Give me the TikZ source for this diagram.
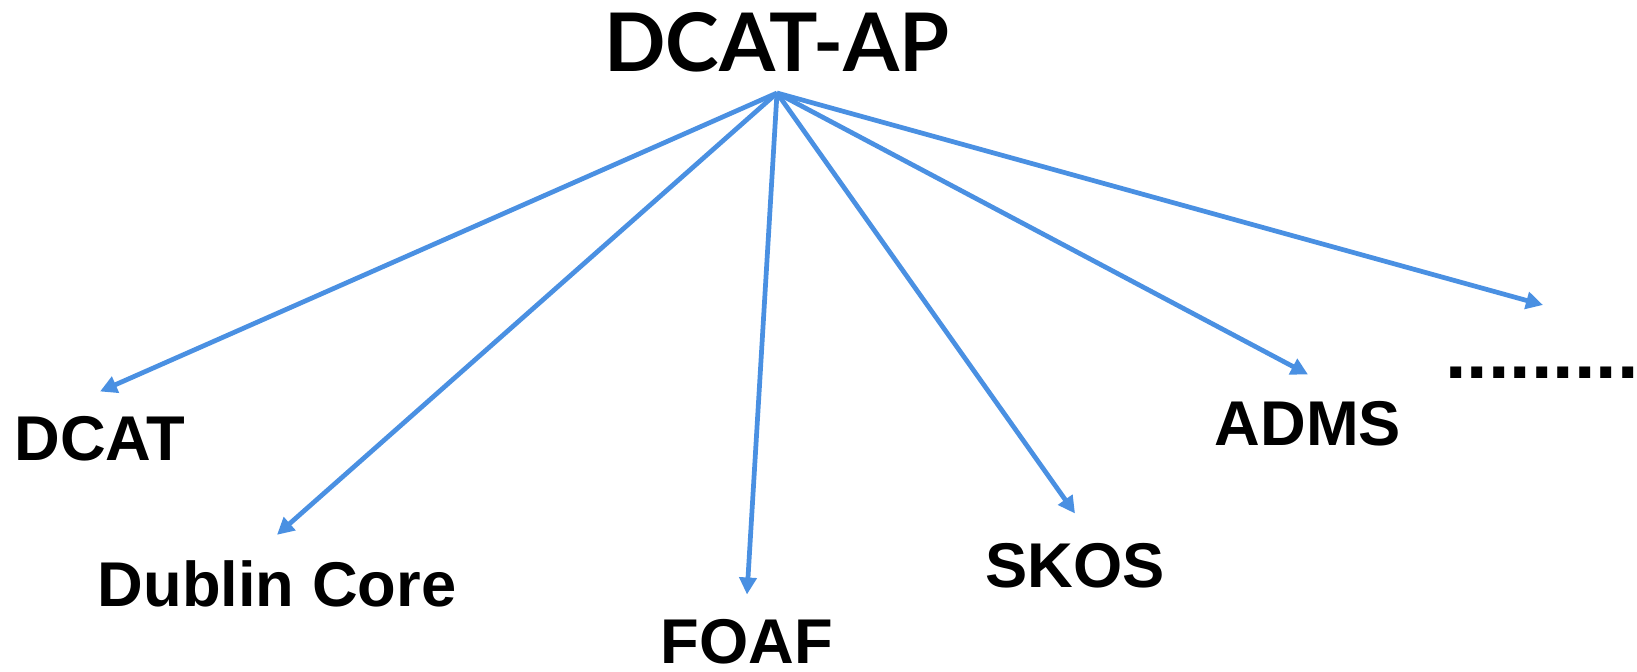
\documentclass[tikz,border=0pt]{standalone}
\usepackage{fontspec}
\setmainfont{Liberation Sans}
\newfontfamily\titlefont{Lato}
\usepackage{tikz}
\usetikzlibrary{positioning, arrows.meta, calc}
\definecolor{linkblue}{RGB}{74,144,226}

\begin{document}
\begin{tikzpicture}[
        x=0.02cm, y=-0.02cm,
        vocab/.style={inner sep=0pt, anchor=base, font=\fontsize{36}{40}\selectfont\bfseries},
        title/.style={inner sep=0pt, anchor=base, font=\fontsize{46}{52}\selectfont\titlefont\bfseries},
        arrow/.style={-{Triangle[length=3.4mm, width=3.4mm]}, line width=2.7pt, draw=linkblue}
      ]
      \useasboundingbox (0,0) rectangle (1637,672);

      % top node
      \node[title] (dcatap) at (777,72) {DCAT-AP};
      \coordinate (hub) at (777,93);

      % vocabularies
      \node[vocab] (dcat) at (100,460) {DCAT};
      \node[vocab] (dublin) at (277,606) {Dublin Core};
      \node[vocab] (foaf) at (747,663) {FOAF};
      \node[vocab] (skos) at (1075,587) {SKOS};
      \node[vocab] (adms) at (1308,445) {ADMS};
      \node[vocab, font=\fontsize{44}{48}\selectfont\bfseries] (more) at (1542,378) {.........};
      \coordinate (moretip) at (1543,305);

      % edges
      \draw[arrow] (hub) -- ([yshift=0.48cm]dcat.north);
      \draw[arrow] (hub) -- ([yshift=0.5cm]dublin.north);
      \draw[arrow] (hub) -- ([yshift=0.48cm]foaf.north);
      \draw[arrow] (hub) -- ([yshift=0.58cm]skos.north);
      \draw[arrow] (hub) -- ([yshift=0.52cm]adms.north);
      \draw[arrow] (hub) -- (moretip);

\end{tikzpicture}
\end{document}
